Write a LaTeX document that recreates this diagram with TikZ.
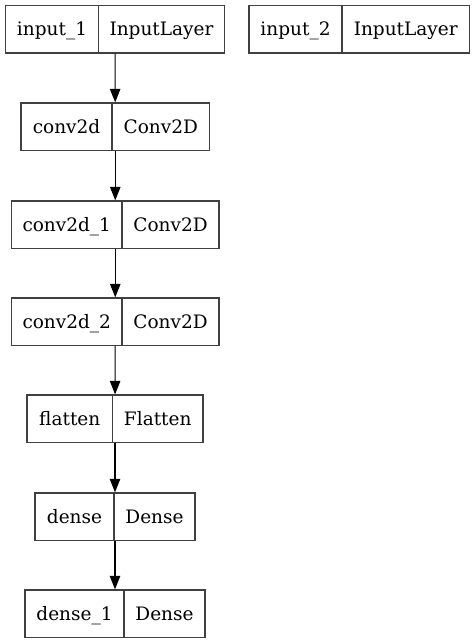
\documentclass[tikz,border=0pt]{standalone}
\usepackage{fontspec}
\setmainfont{DejaVu Serif}
\usetikzlibrary{arrows.meta}

\begin{document}
\begin{tikzpicture}[x=1pt,y=-1pt]
\tikzset{layer box/.style={draw=black!75, line width=1.3pt, inner sep=0pt, minimum height=47.5pt},
  layer text/.style={anchor=base, inner sep=0pt, font=\fontsize{18.5}{20}\selectfont},
  flow/.style={-{Triangle[length=13.5pt,width=10.5pt]}, line width=1.1pt}}
\useasboundingbox (0,0) rectangle (475,644);
% the layers: name/left/divider/right/top/layer name/layer type
\foreach \n/\l/\d/\r/\t/\a/\b in {
  inputA/5.5/98.5/224.5/5.5/input\_1/InputLayer,
  inputB/249/342/469.5/5.5/input\_2/InputLayer,
  convA/21/112/209.5/103/conv2d/Conv2D,
  convB/11.5/122/219/201/conv2d\_1/Conv2D,
  convC/11.5/122/219/298/conv2d\_2/Conv2D,
  flat/27/112.5/203/395/flatten/Flatten,
  denseA/35/114/195/493/dense/Dense,
  denseB/25/124/205/590/dense\_1/Dense}
{
  \node[layer box, minimum width={(\r-\l)*1pt}] (\n) at ({(\l+\r)/2},{\t+23.75}) {};
  \draw[draw=black!75, line width=1.3pt] (\d,\t) -- (\d,\t+47.5);
  % the two labels
  \node[layer text] (\n-a) at ({(\l+\d)/2},{\t+30.5}) {\a};
  \node[layer text] (\n-b) at ({(\d+\r)/2},{\t+30.5}) {\b};
}
% the connectors
\foreach \u/\v in {inputA/convA, convA/convB, convB/convC, convC/flat, flat/denseA, denseA/denseB}
{
  \draw[flow] (\u) -- (\v);
}
\end{tikzpicture}
\end{document}
